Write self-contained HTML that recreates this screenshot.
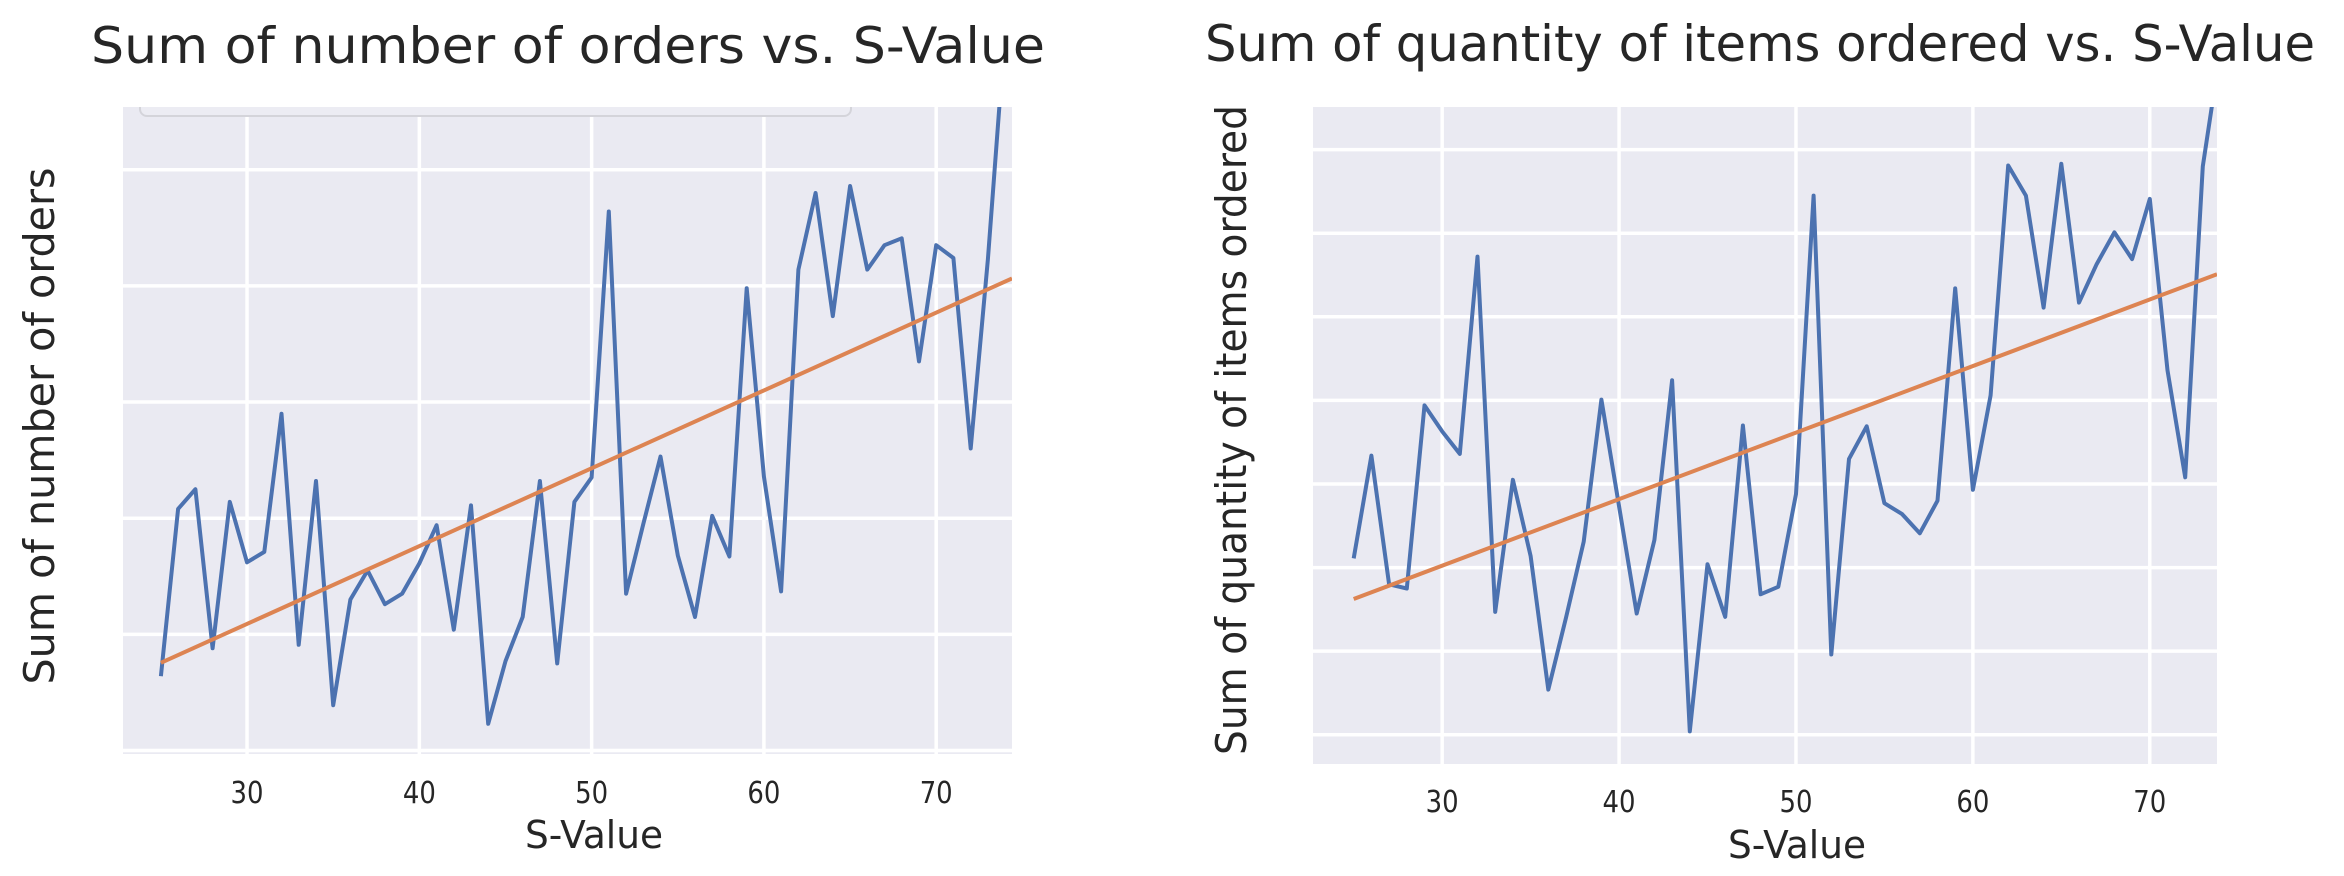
<!DOCTYPE html>
<html><head><meta charset="utf-8">
<style>
html,body{margin:0;padding:0;background:#fff;}
svg{display:block;font-family:"DejaVu Sans","Liberation Sans",sans-serif;}
</style></head>
<body>
<svg id="chart" width="2344" height="876" viewBox="0 0 2344 876"></svg>
<script>
// ---- data ----
const sValues = [];
for (let v = 25; v <= 74; v++) sValues.push(v);
const ordersSum = [64,208,225,88,214,162,171,290,91,232,39,130,155,126,135,161,194,104,211,23,77,115,232,75,214,235,464,135,195,253,168,115,202,167,398,236,137,414,480,374,486,414,435,441,335,435,424,260,423,620];
const quantitySum = [211,334,180,175,394,363,336,572,147,305,214,54,140,231,401,273,145,233,424,4,204,141,370,168,177,288,645,96,330,369,277,264,241,280,534,293,406,681,645,511,683,517,563,601,569,641,436,308,680,820];
const xTicks = [30,40,50,60,70];
const ordersYGrid = [0,100,200,300,400,500];
const quantityYGrid = [0,100,200,300,400,500,600,700];

const NS = "http://www.w3.org/2000/svg";
const svg = document.getElementById('chart');
function mk(tag, attrs, parent){
  const e = document.createElementNS(NS, tag);
  for (const k in attrs) e.setAttribute(k, attrs[k]);
  (parent||svg).appendChild(e);
  return e;
}
function fit(xs, ys){
  const n = xs.length; let mx=0,my=0;
  for (let i=0;i<n;i++){mx+=xs[i];my+=ys[i];}
  mx/=n; my/=n; let sxy=0,sxx=0;
  for (let i=0;i<n;i++){sxy+=(xs[i]-mx)*(ys[i]-my);sxx+=(xs[i]-mx)*(xs[i]-mx);}
  const b=sxy/sxx; return {a:my-b*mx,b:b};
}

function drawPanel(cfg){
  const g = mk('g', {});
  
  
  const L=cfg.left,R=cfg.right,T=cfg.top,B=cfg.bottom;
  const X = v => L + (v - cfg.xmin) / (cfg.xmax - cfg.xmin) * (R - L);
  const Y = v => B - (v - cfg.ymin) / (cfg.ymax - cfg.ymin) * (B - T);
  const clipId = cfg.name + '-clip';
  const defs = mk('defs', {}, g);
  const cp = mk('clipPath', {id: clipId}, defs);
  mk('rect', {x:L, y:T, width:R-L, height:B-T}, cp);
  const bg = mk('rect', {x:L, y:T, width:R-L, height:B-T, fill:'#eaeaf2'}, g);
  
  
  cfg.yGrid.forEach(t => {
    const l = mk('line', {x1:L, x2:R, y1:Y(t), y2:Y(t), stroke:'#fff', 'stroke-width':3.5}, g);
    
    
  });
  xTicks.forEach(t => {
    const l = mk('line', {x1:X(t), x2:X(t), y1:T, y2:B, stroke:'#fff', 'stroke-width':3.5}, g);
    
    
    const tx = mk('text', {x:X(t), y:cfg.tickY, 'text-anchor':'middle', 'font-size':30, fill:'#262626', textLength:33, lengthAdjust:'spacingAndGlyphs'}, g);
    tx.textContent = t;
    
    
  });
  if (cfg.legendBox){
    const lb = mk('rect', {x:cfg.legendBox[0], y:T-40, width:cfg.legendBox[1]-cfg.legendBox[0], height:40+cfg.legendBox[2]-T, rx:7, fill:'#ececf3', stroke:'#d4d4da', 'stroke-width':2, 'clip-path':'url(#'+clipId+')'}, g);
    
    
  }
  const pts = sValues.map((v,i) => X(v).toFixed(1)+','+Y(cfg.values[i]).toFixed(1)).join(' ');
  const pl = mk('polyline', {points:pts, fill:'none', stroke:'#4c72b0', 'stroke-width':4, 'stroke-linejoin':'round', 'clip-path':'url(#'+clipId+')'}, g);
  
  
  const f = fit(sValues, cfg.values);
  const x0 = sValues[0], x1 = cfg.xmax;
  const tl = mk('line', {x1:X(x0), y1:Y(f.a+f.b*x0), x2:X(x1), y2:Y(f.a+f.b*x1), stroke:'#dd8452', 'stroke-width':4, 'clip-path':'url(#'+clipId+')'}, g);
  
  
  const title = mk('text', {x:cfg.titleX, y:cfg.titleY, 'text-anchor':'middle', 'font-size':50, fill:'#262626', textLength:cfg.titleW, lengthAdjust:'spacingAndGlyphs'}, g);
  title.textContent = cfg.title;
  
  
  const xl = mk('text', {x:cfg.xlabX, y:cfg.xlabY, 'text-anchor':'middle', 'font-size':38, fill:'#262626', textLength:138, lengthAdjust:'spacingAndGlyphs'}, g);
  xl.textContent = 'S-Value';
  
  
  const yl = mk('text', {x:0, y:0, 'text-anchor':'middle', 'font-size':42, fill:'#262626', textLength:cfg.ylabLen, lengthAdjust:'spacingAndGlyphs', transform:'translate('+cfg.ylabX+','+cfg.ylabCY+') rotate(-90)'}, g);
  yl.textContent = cfg.ylab;
  
  
}

drawPanel({name:'orders-panel', values:ordersSum, yGrid:ordersYGrid, legendBox:[140,851,116],
  left:123, right:1012, top:107, bottom:754, xmin:22.8, xmax:74.4, ymin:-3, ymax:554,
  tickY:803, title:'Sum of number of orders vs. S-Value', titleX:568, titleY:63, titleW:954,
  xlabX:594, xlabY:848, ylab:'Sum of number of orders', ylabX:54, ylabCY:426, ylabLen:517});

drawPanel({name:'quantity-panel', values:quantitySum, yGrid:quantityYGrid,
  left:1313, right:2217, top:107, bottom:764, xmin:22.7, xmax:73.8, ymin:-35, ymax:751,
  tickY:812, title:'Sum of quantity of items ordered vs. S-Value', titleX:1760, titleY:61, titleW:1110,
  xlabX:1797, xlabY:858, ylab:'Sum of quantity of items ordered', ylabX:1246, ylabCY:430, ylabLen:650});
</script>
</body></html>
